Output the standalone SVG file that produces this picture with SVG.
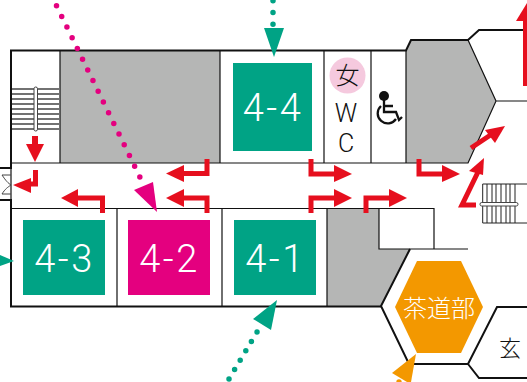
<svg xmlns="http://www.w3.org/2000/svg" width="527" height="382" viewBox="0 0 527 382">
<style>
.room{fill:none;stroke:#111;stroke-width:1.2}
.wall{fill:none;stroke:#111;stroke-width:2}
.gray{fill:#b5b6b5}
.arr{fill:none;stroke:#e60f1e;stroke-width:5}
.head{fill:#e60f1e}
.lbl{font-family:Roboto,"Liberation Sans",sans-serif;font-weight:300;fill:#fff;font-size:38px;letter-spacing:2.500px;text-anchor:middle}
.blk{font-family:"Noto Sans CJK JP","Liberation Sans",sans-serif;fill:#111;text-anchor:middle;font-weight:300}
.lat{font-family:Roboto,"Liberation Sans",sans-serif;font-weight:300;font-size:25px}
.st{fill:none;stroke:#444;stroke-width:1.300}
</style>
<rect width="527" height="382" fill="#fff"/>
<g id="floorplan">
<rect class="gray" x="60" y="51" width="160" height="112"/>
<polygon class="gray" points="406,51 411,40 468,40 496,101 468,163 406,163"/>
<polygon class="gray" points="327,208 379,208 379,249 410,249 381,306 327,306"/>
<path class="wall" d="M0,168H11V50.500H406L411,40H468L479,30H527"/>
<path class="wall" d="M0,200H11V306.500H381"/>
<path class="wall" d="M410,249L381,306L409,364H468L497,307H527M468,364L479,378H527"/>
<path class="room" d="M60,51V163M220,51V163M324,51V163M371,51V163M406,51V163M11,163H468L496,101H527M468,40L496,101M11,163V208"/>
<path class="room" d="M11,208.500H434V249M117,208V306M222,208V306M327,208V306M379,208V249H468"/>
</g>
<g id="stairs-left">
<path class="st" d="M12,89H59M12,94H59M12,99H59M12,104H59M12,109H59M12,114H59M12,119H59M12,124H59M12,129H59"/>
<rect x="34" y="87" width="3.500" height="44" rx="1.700" fill="#fff" stroke="#444"/>
</g>
<g id="door">
<path d="M2,175H11M2,194H11M2,175C6,181 8,183 11,185C8,187 5,189 2,194" fill="#fff" stroke="#444"/>
</g>
<g id="stairs-right">
<path d="M482.700,184V223M487,184V223M492,184V223M496,184V223M501,184V223M506,184V223M510,184V223M515,184V223M482.700,184H527M482.700,223H527" fill="none" stroke="#222" stroke-width="1"/>
<rect x="480" y="202.500" width="38" height="3.500" rx="1.700" fill="#fff" stroke="#444"/>
</g>
<g id="room-4-4"><rect x="233" y="63" width="79" height="88" fill="#00a385"/><text class="lbl" x="273" y="121">4-4</text></g>
<g id="room-4-3"><rect x="23" y="220" width="82" height="75" fill="#00a385"/><text class="lbl" x="64.500" y="272">4-3</text></g>
<g id="room-4-2"><rect x="128" y="220" width="82" height="75" fill="#e4007f"/><text class="lbl" x="169.500" y="272">4-2</text></g>
<g id="room-4-1"><rect x="234" y="220" width="82" height="75" fill="#00a385"/><text class="lbl" x="275.500" y="272">4-1</text></g>
<g id="room-tea"><polygon points="417,261 461,261 483,307 461,353 417,353 395,307" fill="#f39800"/><text class="lbl" x="439" y="317" style="font-family:'Noto Sans CJK JP',sans-serif;font-size:24px;letter-spacing:0">茶道部</text></g>
<g id="entrance"><text class="blk" x="510" y="356" font-size="22">玄</text></g>
<g id="wc">
<circle cx="347.500" cy="75.500" r="18" fill="#f5c9de"/>
<text class="blk" x="347.500" y="84" font-size="24">女</text>
<text class="blk lat" x="346" y="122">W</text>
<text class="blk lat" x="346" y="151.500">C</text>
</g>
<g id="accessible">
<circle cx="384" cy="96" r="5" fill="#111"/>
<path d="M384,100V112H396L399,120L402,117M384,106H393M381,106A10,10 0 1 0 396,119" fill="none" stroke="#111" stroke-width="2.300"/>
</g>
<g id="connectors">
<g id="red-arrows">
<path class="arr" style="stroke-width:6" d="M35,136V150"/><polygon class="head" points="26,144 44,144 35,162"/>
<path class="arr" d="M35.500,170V184H26"/><polygon class="head" points="13,185 31,178 31,193"/>
<path class="arr" d="M207,159V173.500H178"/><polygon class="head" points="166,173.500 184,165 184,182"/>
<path class="arr" d="M207,213V198H178"/><polygon class="head" points="166,198 184,189 184,207"/>
<path class="arr" d="M102.500,213V198H73"/><polygon class="head" points="61,198 78,189 78,207"/>
<path class="arr" d="M311,159V174H338"/><polygon class="head" points="352,174 334,165 334,182"/>
<path class="arr" d="M419,159V174H446"/><polygon class="head" points="460,174 442,165 442,182"/>
<path class="arr" d="M311,213V198H338"/><polygon class="head" points="352,198 334,189 334,207"/>
<path class="arr" d="M366,213V198H393"/><polygon class="head" points="407,198 389,189 389,207"/>
<path class="arr" d="M471,148L492,134"/><polygon class="head" points="505,126 485,130 495,143"/>
<path class="arr" d="M476,205H462L478,172"/><polygon class="head" points="484,158 469,171 483,175"/>
<path class="arr" d="M525.500,86V18"/><polygon class="head" points="527,3 516,21 527,21"/>
</g>
<g id="dotted" stroke-linecap="round" fill="none" stroke-width="5.500">
<path d="M56.500,5.700L143.300,184" stroke="#e4007f" stroke-dasharray="0 11.900"/>
<path d="M273,0.800V24.200" stroke="#00a385" stroke-dasharray="0 11.700"/>
<path d="M257,332L229,379" stroke="#00a385" stroke-dasharray="0 10.940"/>
</g>
<polygon points="134,190 153,182 157,212" fill="#e4007f"/>
<polygon points="264,28 284,28 274,57" fill="#00a385"/>
<polygon points="253,319 277,300 271,330" fill="#00a385"/>
<polygon points="0,255 14,261 0,266" fill="#00a385"/>
<polygon points="392,373 416,354 411,382 407,382" fill="#f39800"/>
<circle cx="399" cy="382" r="2.700" fill="#f39800"/>
</g>
</svg>
